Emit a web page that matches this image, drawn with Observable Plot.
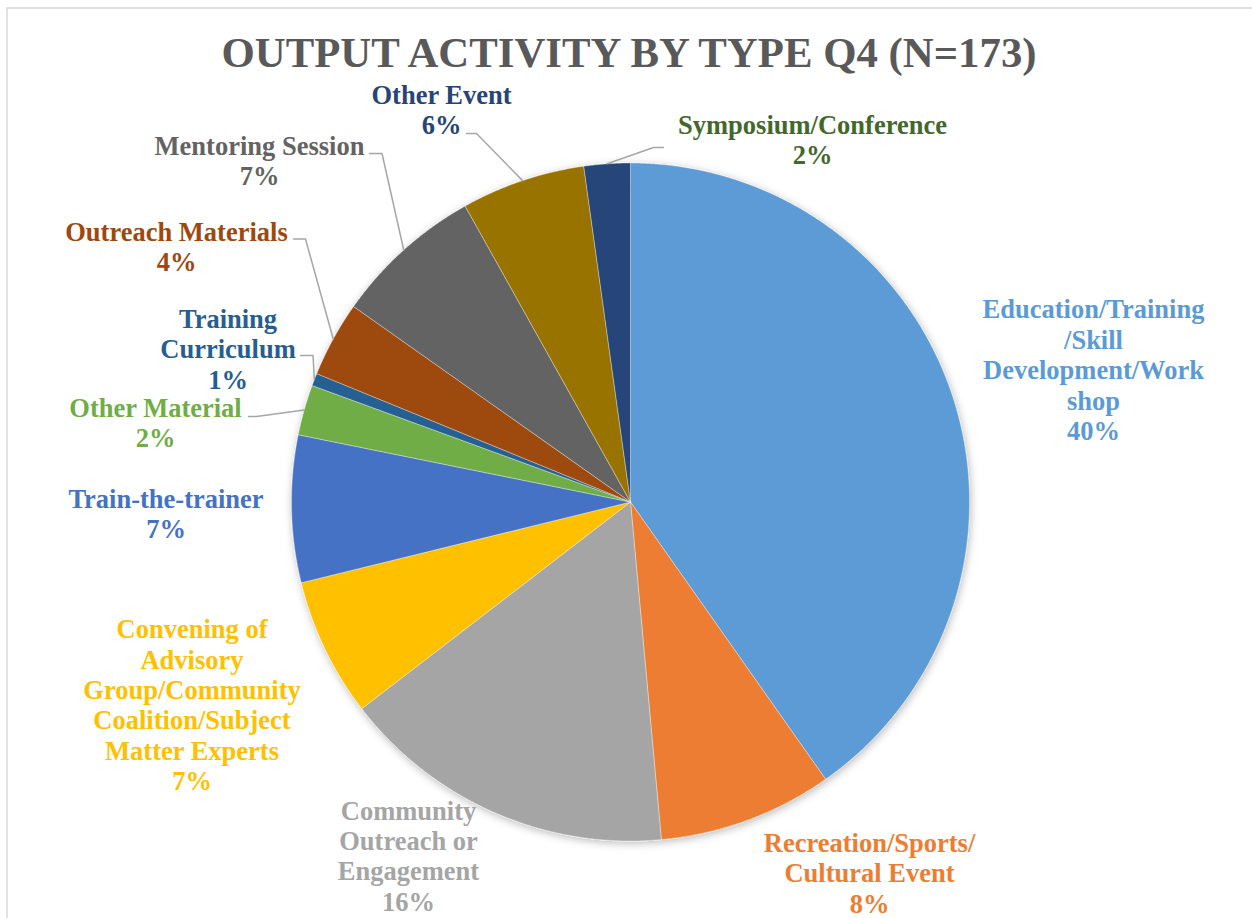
<!DOCTYPE html>
<html><head><meta charset="utf-8">
<script src="https://cdn.jsdelivr.net/npm/d3@7"></script>
<script src="https://cdn.jsdelivr.net/npm/@observablehq/plot@0.6"></script>
<style>body{margin:0;background:#fff} svg{display:block}</style>
</head><body><div id="chart"></div>
<script>
// ---- data ----
const title = "OUTPUT ACTIVITY BY TYPE Q4 (N=173)";
const categories = [
  "Education/Training/Skill Development/Workshop",
  "Recreation/Sports/Cultural Event",
  "Community Outreach or Engagement",
  "Convening of Advisory Group/Community Coalition/Subject Matter Experts",
  "Train-the-trainer",
  "Other Material",
  "Training Curriculum",
  "Outreach Materials",
  "Mentoring Session",
  "Other Event",
  "Symposium/Conference"
];
// shares (%)
const shares = [40.2, 8.3, 16.0, 6.6, 7.0, 2.4, 0.6, 3.6, 7.1, 5.9, 2.2];
const labelText = [
  "Education/Training\n/Skill\nDevelopment/Work\nshop",
  "Recreation/Sports/\nCultural Event",
  "Community\nOutreach or\nEngagement",
  "Convening of\nAdvisory\nGroup/Community\nCoalition/Subject\nMatter Experts",
  "Train-the-trainer",
  "Other Material",
  "Training\nCurriculum",
  "Outreach Materials",
  "Mentoring Session",
  "Other Event",
  "Symposium/Conference"
];
const sliceColors = ["#5B9BD5","#ED7D31","#A5A5A5","#FFC000","#4472C4","#70AD47","#255E91","#9E480E","#636363","#997300","#264478"];
const labelColors = ["#5B9BD5","#ED7D31","#A5A5A5","#FFC000","#4472C4","#70AD47","#255E91","#9E480E","#636363","#264478","#43682B"];

// ---- layout ----
const W = 1252, H = 918, CX = 630, CY = 501.5, R = 339;
const FS = 26.5, LH = 1.15;
const labelAnchor = [
  [1093, 369], [869, 872], [408, 855], [191.5, 704], [165.5, 513], [155, 422],
  [227.5, 348], [176, 246], [259, 160], [441, 109], [812, 139]
];
// leader lines: [start, elbow]; end is computed on the pie edge
const leaderPts = {
  5: [[248, 416], [256, 416]],
  6: [[300, 355], [312.5, 355]],
  7: [[293, 238.5], [305, 238.5]],
  8: [[369, 153], [381.5, 153]],
  9: [[466, 133], [476, 133]],
  10: [[663, 147], [653, 147]]
};

const total = d3.sum(shares);
const arcs = d3.pie().sort(null).value(d => d)(shares);
const px = a => CX + R * Math.sin(a);
const py = a => CY - R * Math.cos(a);

const slicePts = [];
arcs.forEach((a, i) => {
  const name = categories[i];
  slicePts.push({name, x: CX, y: CY});
  const n = Math.max(2, Math.ceil((a.endAngle - a.startAngle) / (Math.PI / 720)));
  for (let k = 0; k <= n; k++) {
    const t = a.startAngle + (a.endAngle - a.startAngle) * k / n;
    slicePts.push({name, x: px(t), y: py(t)});
  }
  slicePts.push({name, x: CX, y: CY});
});

const leaderData = [];
Object.entries(leaderPts).forEach(([i, pts]) => {
  const a = arcs[+i];
  const mid = (a.startAngle + a.endAngle) / 2;
  pts.forEach(p => leaderData.push({k: i, x: p[0], y: p[1]}));
  leaderData.push({k: i, x: px(mid), y: py(mid)});
});

const labelMarks = categories.map((c, i) => Plot.text([i], {
  x: () => labelAnchor[i][0],
  y: () => labelAnchor[i][1],
  text: () => labelText[i] + "\n" + Math.round(shares[i] / total * 100) + "%",
  fill: labelColors[i],
  fontSize: FS,
  fontWeight: "bold",
  lineHeight: LH,
  lineAnchor: "middle",
  textAnchor: "middle"
}));

const plot = Plot.plot({
  width: W, height: H, margin: 0,
  x: {domain: [0, W], range: [0, W], axis: null},
  y: {domain: [0, H], range: [0, H], axis: null},
  color: {type: "ordinal", domain: categories, range: sliceColors},
  style: {fontFamily: "'Liberation Serif', 'Times New Roman', serif", background: "#fff"},
  marks: [
    Plot.ruleX([6.5], {y1: 7.5, y2: H, stroke: "#D9D9D9", strokeWidth: 1.5}),
    Plot.ruleY([7.5], {x1: 6.5, x2: W, stroke: "#D9D9D9", strokeWidth: 1.5}),
    Plot.line(slicePts, {x: "x", y: "y", z: "name", fill: "name", stroke: "#ffffff", strokeWidth: 0.5, strokeOpacity: 0.7, curve: "linear"}),
    Plot.line(leaderData, {x: "x", y: "y", z: "k", stroke: "#A6A6A6", strokeWidth: 1.5, curve: "linear"}),
    ...labelMarks,
    Plot.text([title], {x: () => 628.5, y: () => 53, text: d => d, fontSize: 42.8, fontWeight: "bold", fill: "#595959", lineAnchor: "middle", textAnchor: "middle"})
  ]
});

// soft shadow under the pie
const ns = "http://www.w3.org/2000/svg";
const defs = document.createElementNS(ns, "defs");
defs.innerHTML = '<filter id="pieShadow" x="-10%" y="-10%" width="120%" height="120%"><feDropShadow dx="1" dy="2" stdDeviation="4" flood-color="#000" flood-opacity="0.28"/></filter>';
plot.insertBefore(defs, plot.firstChild);
const lineGroups = plot.querySelectorAll('g[aria-label="line"]');
if (lineGroups.length) lineGroups[0].setAttribute("filter", "url(#pieShadow)");

document.getElementById("chart").appendChild(plot);
</script>
</body></html>
